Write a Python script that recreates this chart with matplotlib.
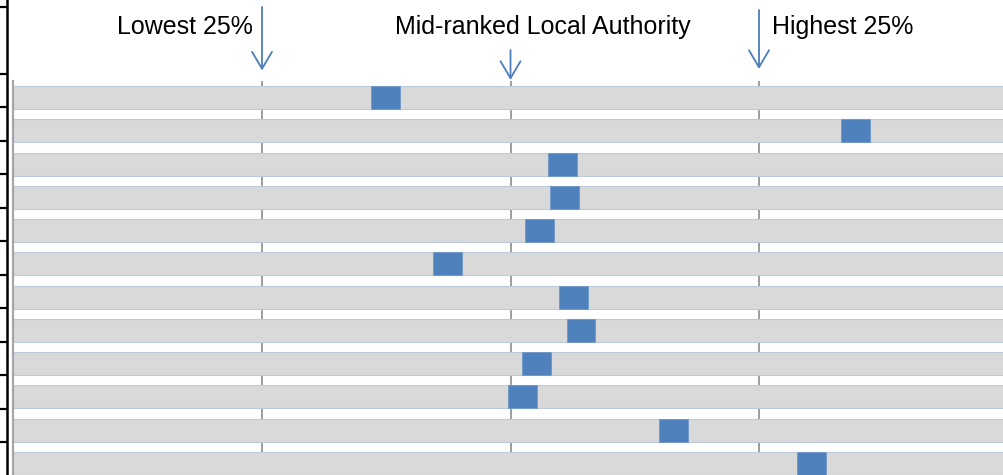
import matplotlib
matplotlib.use("Agg")
import matplotlib.pyplot as plt
from matplotlib.patches import ArrowStyle

# ---- data ----
rows = [f"Indicator {i}" for i in range(1, 13)]
marker_centre = [37.4, 84.7, 55.2, 55.4, 52.9, 43.7, 56.3, 57.1, 52.6, 51.2, 66.4, 80.3]
marker_width = 2.9
scale_max = 100
quartiles = [25, 50, 75]
band_labels = ["Lowest 25%", "Mid-ranked Local Authority", "Highest 25%"]

W, H = 1004, 475
plt.rcParams["font.family"] = ["Liberation Sans", "DejaVu Sans"]
fig = plt.figure(figsize=(W / 100, H / 100), dpi=100)

ax = fig.add_axes([13.5 / W, -5 / H, 994 / W, 399 / H])
y = list(range(len(rows)))
left = [c - marker_width / 2 for c in marker_centre]
ax.barh(y, [scale_max] * len(rows), height=0.69, color="#d9d9d9",
        edgecolor="#bccadb", linewidth=0.8, zorder=2)
ax.barh(y, [marker_width] * len(rows), left=left, height=0.69, color="#4f81bd",
        edgecolor="#6f97c9", linewidth=0.6, zorder=3)
for q in quartiles:
    ax.axvline(q, color="#8c8c8c", linewidth=1.2, zorder=1)
ax.set_xlim(0, scale_max)
ax.set_ylim(len(rows) - 0.5, -0.5)
ax.set_xticks([])
ax.set_yticks([])
for s in ["top", "right", "bottom"]:
    ax.spines[s].set_visible(False)
ax.spines["left"].set_color("#a6a6a6")
ax.spines["left"].set_linewidth(1.6)
ax.patch.set_visible(False)

# left black axis (from neighbouring chart)
ax2 = fig.add_axes([7 / W, 0, 0.0005, 1])
ax2.set_ylim(H, 0)
ax2.set_xticks([])
ticks_px = [7] + [74 + 33.45 * k for k in range(12)]
ax2.set_yticks(ticks_px)
ax2.set_yticklabels([])
ax2.tick_params(axis="y", direction="out", length=5.2, width=1.6, color="black")
for s in ["top", "right", "bottom"]:
    ax2.spines[s].set_visible(False)
ax2.spines["left"].set_linewidth(1.8)
ax2.patch.set_visible(False)

# arrows
arrow_span = [(7, 70.5), (50, 80), (10, 69)]
for q, (y0, y1) in zip(quartiles, arrow_span):
    ax.annotate("", xy=(q, H - y1), xytext=(q, H - y0),
                xycoords=("data", "figure pixels"), textcoords=("data", "figure pixels"),
                annotation_clip=False,
                arrowprops=dict(arrowstyle=ArrowStyle("->", head_length=1.22, head_width=0.72),
                                mutation_scale=10, color="#4a7ebb", lw=1.3,
                                shrinkA=0, shrinkB=0))

# labels
base = (H - 34.3) / H
fig.text(253 / W, base, band_labels[0], ha="right", va="baseline", fontsize=18)
fig.text(542.7 / W, base, band_labels[1], ha="center", va="baseline", fontsize=18)
fig.text(772 / W, base, band_labels[2], ha="left", va="baseline", fontsize=18)

fig.savefig("out.png", dpi=100)
